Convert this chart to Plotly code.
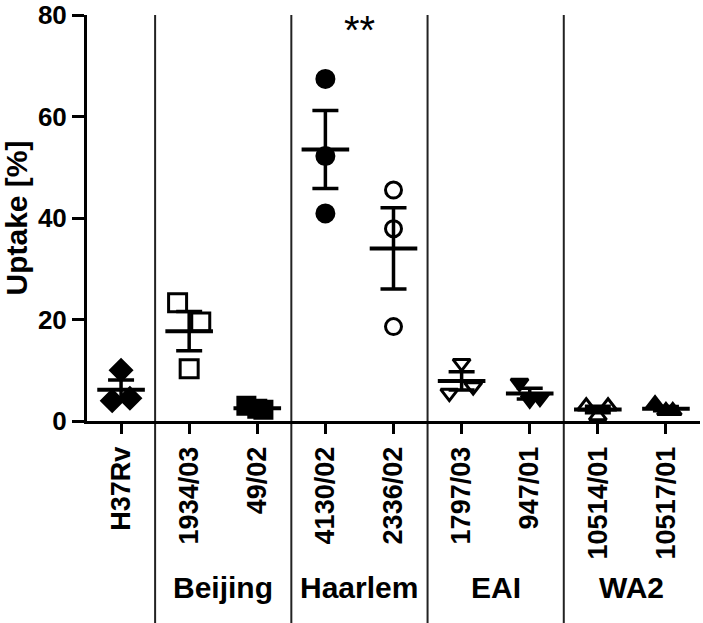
import numpy as np
import plotly.graph_objects as go

# ---- data ----
strains = ["H37Rv", "1934/03", "49/02", "4130/02", "2336/02", "1797/03", "947/01", "10514/01", "10517/01"]
lineages = ["Beijing", "Haarlem", "EAI", "WA2"]
uptake_H37Rv = [10.0, 4.0, 4.5]
uptake_1934_03 = [23.3, 19.5, 10.3]
uptake_49_02 = [3.0, 2.2, 2.4]
uptake_4130_02 = [67.4, 52.2, 40.9]
uptake_2336_02 = [45.5, 37.9, 18.6]
uptake_1797_03 = [11.4, 5.5, 6.8]
uptake_947_01 = [7.5, 4.2, 4.5]
uptake_10514_01 = [2.9, 2.9, 1.0]
uptake_10517_01 = [3.3, 2.0, 2.0]
y_ticks = [0, 20, 40, 60, 80]
significance = "**"

values = [uptake_H37Rv, uptake_1934_03, uptake_49_02, uptake_4130_02, uptake_2336_02,
          uptake_1797_03, uptake_947_01, uptake_10514_01, uptake_10517_01]

# ---- style (positions / looks) ----
jitter = [[0, -0.13, 0.13], [-0.17, 0.17, 0], [-0.16, 0.09, 0], [0, 0, 0], [0, 0, 0],
          [0, -0.18, 0.17], [-0.15, 0, 0.15], [-0.17, 0.15, 0], [-0.16, 0, 0.1]]
symbols = ["diamond", "square-open", "square", "circle", "circle-open",
           "triangle-down-open", "triangle-down", "triangle-up-open", "triangle-up"]
sizes = [16, 18, 17, 17, 16, 15, 15, 15, 15]
FONT = "Liberation Sans"
FS = 30

fig = go.Figure()
for i, (vals, sym) in enumerate(zip(values, symbols)):
    xs = [i + j for j in jitter[i]]
    fig.add_trace(go.Scatter(
        x=xs, y=vals, mode="markers",
        marker=dict(symbol=sym, size=sizes[i], color="black",
                    line=dict(color="black", width=3)),
        cliponaxis=False, showlegend=False))
    arr = np.array(vals)
    mean = arr.mean()
    sem = arr.std(ddof=1) / np.sqrt(len(arr))
    fig.add_trace(go.Scatter(
        x=[i], y=[mean], mode="markers",
        marker=dict(symbol="line-ew", size=34, color="black",
                    line=dict(color="black", width=4)),
        error_y=dict(type="data", array=[sem], visible=True, color="black",
                     thickness=3.5, width=13),
        cliponaxis=False, showlegend=False))

# separators between lineage groups
for b in [0.5, 2.5, 4.5, 6.5]:
    fig.add_shape(type="line", xref="x", yref="paper", x0=b, x1=b, y0=-0.5, y1=1.0,
                  line=dict(color="#222", width=2), layer="below")

# lineage labels
for k, name in enumerate(lineages):
    fig.add_annotation(x=1.5 + 2 * k, y=-0.41, xref="x", yref="paper", text=name,
                       showarrow=False, yanchor="middle",
                       font=dict(family=FONT, size=FS, color="black", weight="bold"))

fig.add_annotation(x=3.5, y=0.962, xref="x", yref="paper", text=significance,
                   showarrow=False, yanchor="middle",
                   font=dict(family=FONT, size=40, color="black"))

fig.update_layout(
    width=703, height=623,
    margin=dict(l=87, r=3, t=15, b=202, autoexpand=False),
    paper_bgcolor="white", plot_bgcolor="white",
    font=dict(family=FONT, color="black"),
    xaxis=dict(range=[-0.5, 8.5], tickmode="array", tickvals=list(range(len(strains))),
               ticktext=strains, tickangle=-90, showgrid=False, zeroline=False,
               showline=True, linecolor="black", linewidth=3, automargin=False,
               ticks="outside", ticklen=10, tickwidth=3, tickcolor="black",
               ticklabelstandoff=2, ticklabeloverflow="allow",
               tickfont=dict(family=FONT, size=27, color="black", weight="bold")),
    yaxis=dict(range=[0, 80], tickmode="array", tickvals=y_ticks, showgrid=False, zeroline=False,
               showline=True, linecolor="black", linewidth=3, automargin=False,
               ticks="outside", ticklen=12, tickwidth=3, tickcolor="black",
               ticklabeloverflow="allow",
               tickfont=dict(family=FONT, size=26, color="black", weight="bold"),
               title=dict(text="Uptake [%]", standoff=12,
                          font=dict(family=FONT, size=FS, color="black", weight="bold"))),
)

fig.write_html("out.html", config={"displayModeBar": False},
               post_script="document.body.style.margin='0';")
